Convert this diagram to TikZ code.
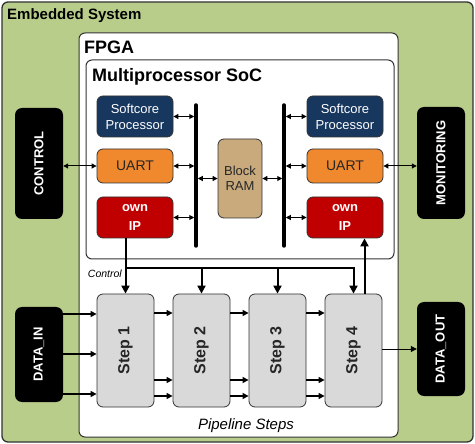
\documentclass[tikz,border=0pt]{standalone}
\usepackage{fontspec}
\setmainfont{Liberation Sans}
\usetikzlibrary{arrows.meta}

\definecolor{systemgreen}{HTML}{B9CD8B}
\definecolor{cpublue}{HTML}{17375E}
\definecolor{uartorange}{HTML}{F0882D}
\definecolor{ipred}{HTML}{C00000}
\definecolor{ramtan}{HTML}{C8AA7D}
\definecolor{stepgray}{HTML}{D9D9D9}

\begin{document}
\begin{tikzpicture}[
  x = 1pt,
  y = -1pt,
  container/.style = {
    shape = rectangle,
    draw = black!80,
    line width = 1pt,
    rounded corners = 6pt,
    inner sep = 0pt,
  },
  block/.style = {
    shape = rectangle,
    draw = black!80,
    line width = 0.8pt,
    rounded corners = 6pt,
    minimum width = 76pt,
    inner sep = 0pt,
    align = center,
    font = \fontsize{13}{16}\selectfont,
  },
  port/.style = {
    shape = rectangle,
    fill = black,
    rounded corners = 7pt,
    minimum width = 48pt,
    inner sep = 0pt,
    text = white,
    font = \fontsize{13}{16}\selectfont\bfseries,
  },
  stage/.style = {
    block,
    fill = stepgray,
    minimum width = 57pt,
    minimum height = 113pt,
    text = black!85,
    font = \fontsize{16}{18}\selectfont\bfseries,
  },
  title/.style = {
    anchor = base west,
    inner sep = 0pt,
    font = \fontsize{18}{20}\selectfont\bfseries,
  },
  bus/.style = { line width = 3.5pt, line cap = round },
  link/.style = { >={Triangle[length = 5pt, width = 5pt]}, <->, line width = 1pt },
  data/.style = { >={Triangle[length = 6pt, width = 6pt]}, ->, line width = 1.4pt },
  control/.style = { >={Triangle[length = 8pt, width = 8pt]}, line width = 2pt },
]
  \useasboundingbox (0, 0) rectangle (475, 444);

  % containers
  \node[container, fill = systemgreen, minimum width = 471pt, minimum height = 440pt, line width = 1.3pt] (system) at (237.5, 222) {};
  \node[container, fill = white, minimum width = 319pt, minimum height = 404pt] (fpga) at (238.5, 235) {};
  \node[container, fill = white, minimum width = 308pt, minimum height = 199pt] (soc) at (240, 159.5) {};

  \node[title, font = \fontsize{15}{18}\selectfont\bfseries] (systemtitle) at (7, 20) {Embedded System};
  \node[title] (fpgatitle) at (84, 54) {FPGA};
  \node[title] (soctitle) at (92, 82) {Multiprocessor SoC};

  % SoC blocks
  \node[block, fill = cpublue, text = white, minimum height = 41pt] (cpu1) at (135, 116.5) {Softcore\\Processor};
  \node[block, fill = uartorange, text = black!85, minimum height = 34pt, font = \fontsize{14}{16}\selectfont] (uart1) at (135, 166) {UART};
  \node[block, fill = ipred, text = white, minimum height = 41pt, font = \fontsize{13}{18}\selectfont\bfseries] (ip1) at (135, 217.5) {own\\IP};

  \node[block, fill = cpublue, text = white, minimum height = 41pt] (cpu2) at (345, 116.5) {Softcore\\Processor};
  \node[block, fill = uartorange, text = black!85, minimum height = 34pt, font = \fontsize{14}{16}\selectfont] (uart2) at (345, 166) {UART};
  \node[block, fill = ipred, text = white, minimum height = 41pt, font = \fontsize{13}{18}\selectfont\bfseries] (ip2) at (345, 217.5) {own\\IP};

  \node[block, fill = ramtan, text = black!85, minimum width = 44pt, minimum height = 79pt, font = \fontsize{13}{15}\selectfont] (ram) at (240, 178.5) {Block\\RAM};

  \coordinate (bus1top) at (196, 105);
  \coordinate (bus1bottom) at (196, 246);
  \coordinate (bus2top) at (284, 105);
  \coordinate (bus2bottom) at (284, 246);

  % outside ports
  \node[port, minimum height = 111pt] (control) at (39, 163.5) {\rotatebox{90}{CONTROL}};
  \node[port, minimum height = 112pt] (monitoring) at (441, 163) {\rotatebox{90}{MONITORING}};
  \node[port, minimum height = 95pt] (datain) at (39, 354.5) {\rotatebox{90}{DATA\_IN}};
  \node[port, minimum height = 94pt] (dataout) at (441, 349) {\rotatebox{90}{DATA\_OUT}};

  % pipeline
  \node[stage] (step1) at (125.5, 350.5) {\rotatebox{90}{Step 1}};
  \node[stage] (step2) at (201.5, 350.5) {\rotatebox{90}{Step 2}};
  \node[stage] (step3) at (277.5, 350.5) {\rotatebox{90}{Step 3}};
  \node[stage] (step4) at (353.5, 350.5) {\rotatebox{90}{Step 4}};

  \node[anchor = base east, inner sep = 0pt, font = \fontsize{10.5}{12}\selectfont\itshape] (controllabel) at (122, 277) {Control};
  \node[anchor = base, inner sep = 0pt, font = \fontsize{15}{18}\selectfont\itshape] (pipelinelabel) at (246, 429) {Pipeline Steps};

  \coordinate (ctrl) at (0, 268);

  % buses and links
  \draw[bus] (bus1top) -- (bus1bottom);
  \draw[bus] (bus2top) -- (bus2bottom);

  \begin{scope}[every path/.style = { link, shorten > = 1.75pt }]
    \draw (cpu1.east) -- (cpu1.east -| bus1top);
    \draw (uart1.east) -- (uart1.east -| bus1top);
    \draw (ip1.east) -- (ip1.east -| bus1top);
    \draw (ram.west) -- (ram.west -| bus1top);
    \draw (ram.east) -- (ram.east -| bus2top);
    \draw (cpu2.west) -- (cpu2.west -| bus2top);
    \draw (uart2.west) -- (uart2.west -| bus2top);
    \draw (ip2.west) -- (ip2.west -| bus2top);
  \end{scope}
  \draw[link] (control.east |- uart1) -- (uart1.west);
  \draw[link] (uart2.east) -- (monitoring.west |- uart2);

  % control lines
  \draw[control, ->] (ip1.south -| step1.north) -- (step1.north);
  \draw[control, ->] (ctrl -| step1.north) -- (ctrl -| step4.north) -- (step4.north);
  \draw[control, ->] (ctrl -| step2.north) -- (step2.north);
  \draw[control, ->] (ctrl -| step3.north) -- (step3.north);
  \draw[control, ->] ([xshift = 11pt]step4.north) -- ([xshift = 11pt]step4.north |- ip2.south);

  % data flow
  \foreach \y in {314, 354, 394}
    \draw[data] (datain.east |- 0, \y) -- (step1.west |- 0, \y);
  \foreach \a/\b in {step1/step2, step2/step3, step3/step4}
    \foreach \y in {313, 380, 396}
      \draw[data] (\a.east |- 0, \y) -- (\b.west |- 0, \y);
  \draw[data, line width = 1pt] (step4.east |- dataout) -- (dataout.west);
\end{tikzpicture}
\end{document}
